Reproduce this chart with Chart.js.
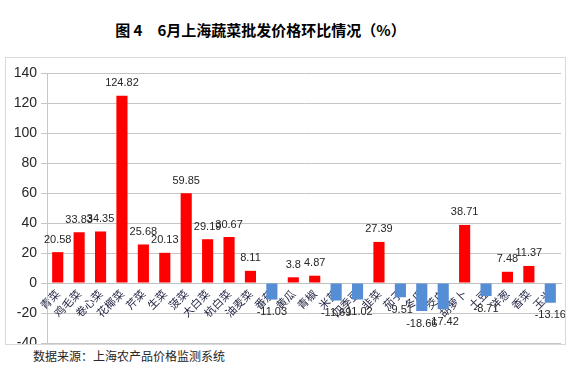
<!DOCTYPE html>
<html>
<head>
<meta charset="utf-8">
<script src="https://cdn.jsdelivr.net/npm/chart.js@4.4.1/dist/chart.umd.min.js"></script>
<style>
  html, body { margin: 0; padding: 0; background: #fff; }
  body { width: 571px; height: 371px; position: relative; overflow: hidden; font-family: "Noto Sans CJK SC", "Noto Sans", sans-serif; }
  .title { position: absolute; top: 19px; left: 0; width: 521px; text-align: center; font-size: 15px; font-weight: bold; color: #000; font-family: "Noto Sans CJK SC", serif; }
  .box { position: absolute; left: 5px; top: 57px; width: 559px; height: 286px; border: 1px solid #d9d9d9; overflow: hidden; }
  .wrap { position: absolute; left: 0; top: 0; width: 560px; height: 300px; }
  .source { position: absolute; left: 33px; top: 347px; font-size: 12px; color: #262626; }
</style>
</head>
<body>
<div class="title">图 4　6月上海蔬菜批发价格环比情况（%）</div>
<div class="box">
  <div class="wrap"><canvas id="priceChart"></canvas></div>
</div>
<div class="source">数据来源：上海农产品价格监测系统</div>
<script>
const categories = ['青菜', '鸡毛菜', '卷心菜', '花椰菜', '芹菜', '生菜', '菠菜', '大白菜', '杭白菜', '油麦菜',
    '番茄', '黄瓜', '青椒', '米苋', '四季豆', '韭菜', '茄子', '冬瓜', '茭白', '胡萝卜', '土豆', '洋葱', '香菜', '玉米']
const changes = [20.58, 33.83, 34.35, 124.82, 25.68, 20.13, 59.85, 29.19, 30.67, 8.11,
    -11.03, 3.8, 4.87, -11.69, -11.02, 27.39, -9.51, -18.66, -17.42, 38.71, -8.71, 7.48, 11.37, -13.16]
const yTicks = [-40, -20, 0, 20, 40, 60, 80, 100, 120, 140]

const RED = '#ff0000'
const BLUE = '#558ed5'

// values written over / under each bar
const valueLabels = {
    id: 'valueLabels',
    afterDatasetsDraw(chart) {
        const ctx = chart.ctx
        const meta = chart.getDatasetMeta(0)
        ctx.save()
        ctx.font = '11px "Liberation Sans", "Noto Sans", sans-serif'
        ctx.fillStyle = '#262626'
        ctx.textAlign = 'center'
        meta.data.forEach((bar, i) => {
            const v = changes[i]
            if (v >= 0) {
                ctx.textBaseline = 'bottom'
                ctx.fillText(String(v), bar.x, bar.y - 7)
            } else {
                ctx.textBaseline = 'top'
                ctx.fillText(String(v), bar.x, bar.y + 7)
            }
        })
        ctx.restore()
    }
}

new Chart(document.getElementById('priceChart'), {
    type: 'bar',
    data: {
        labels: categories,
        datasets: [{
            data: changes,
            backgroundColor: changes.map(v => v >= 0 ? RED : BLUE),
            barPercentage: 0.52,
            categoryPercentage: 1,
        }]
    },
    options: {
        responsive: true,
        maintainAspectRatio: false,
        animation: false,
        layout: { padding: { top: 15, right: 5, bottom: 15, left: 0 } },
        plugins: {
            legend: { display: false },
            tooltip: { enabled: false },
        },
        scales: {
            x: {
                position: { y: 0 },
                grid: { display: false, drawTicks: false },
                border: { color: '#bfbfbf' },
                ticks: {
                    autoSkip: false,
                    minRotation: 45,
                    maxRotation: 45,
                    padding: 4,
                    color: '#1f2340',
                    font: { size: 11, family: '"Noto Sans CJK SC", sans-serif' },
                },
            },
            y: {
                min: -40,
                max: 140,
                afterFit: scale => { scale.width = 41 },
                afterBuildTicks: scale => { scale.ticks = yTicks.map(v => ({ value: v })) },
                grid: { color: '#c6c6c6', tickLength: 6, tickColor: '#c6c6c6' },
                border: { color: '#c6c6c6' },
                ticks: {
                    padding: 4,
                    color: '#262626',
                    font: { size: 14, family: '"Liberation Sans", "Noto Sans", sans-serif' },
                },
            },
        },
    },
    plugins: [valueLabels]
})
</script>
</body>
</html>
